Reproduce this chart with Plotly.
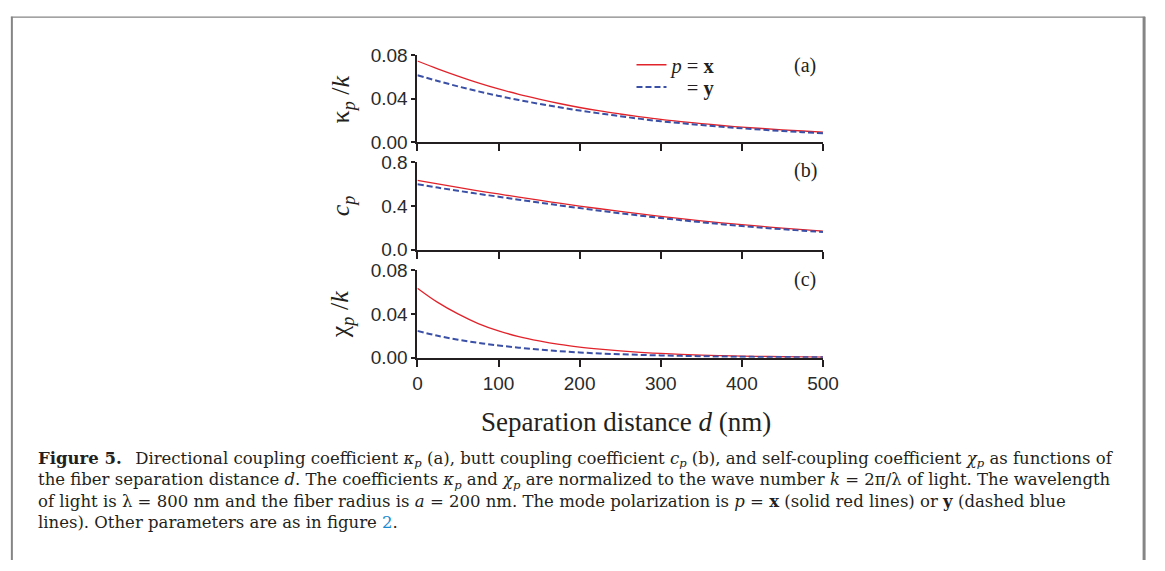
import plotly.graph_objects as go

W, H = 1165, 571

# ---------------- data ----------------
d_nm = [0, 25, 50, 75, 100, 125, 150, 175, 200, 225, 250, 275, 300, 325, 350, 375, 400, 425, 450, 475, 500]

kappa_x = [0.0747, 0.0675, 0.0608, 0.0545, 0.0489, 0.0440, 0.0396, 0.0355, 0.0318, 0.0286, 0.0258,
           0.0232, 0.0208, 0.0188, 0.0170, 0.0152, 0.0137, 0.0124, 0.0112, 0.0101, 0.0091]
kappa_y = [0.0615, 0.0563, 0.0513, 0.0467, 0.0425, 0.0387, 0.0352, 0.0320, 0.0290, 0.0263, 0.0238,
           0.0213, 0.0191, 0.0173, 0.0156, 0.0140, 0.0126, 0.0113, 0.0101, 0.0090, 0.0080]

c_x = [0.635, 0.602, 0.570, 0.539, 0.510, 0.481, 0.453, 0.426, 0.400, 0.375, 0.351,
       0.328, 0.306, 0.285, 0.265, 0.247, 0.230, 0.214, 0.198, 0.184, 0.170]
c_y = [0.598, 0.568, 0.539, 0.511, 0.485, 0.458, 0.432, 0.406, 0.381, 0.357, 0.334,
       0.312, 0.291, 0.271, 0.252, 0.234, 0.218, 0.202, 0.188, 0.175, 0.162]

chi_x = [0.0635, 0.0505, 0.0400, 0.0312, 0.0245, 0.0193, 0.0153, 0.0121, 0.0097, 0.0078, 0.0062,
         0.0049, 0.0039, 0.0031, 0.0024, 0.0019, 0.0015, 0.0012, 0.0009, 0.0007, 0.0006]
chi_y = [0.0245, 0.0200, 0.0165, 0.0136, 0.0112, 0.0092, 0.0075, 0.0060, 0.0048, 0.0039, 0.0032,
         0.0026, 0.0021, 0.0017, 0.0014, 0.0011, 0.0009, 0.0007, 0.0006, 0.0005, 0.0004]

x_ticks = [0, 100, 200, 300, 400, 500]
ticks_a = [0.00, 0.04, 0.08]
ticks_b = [0.0, 0.4, 0.8]
ticks_c = [0.00, 0.04, 0.08]

panel_labels = ["(a)", "(b)", "(c)"]
y_titles = ["κ<sub><i>p</i></sub> /<i>k</i>", "<i>c<sub>p</sub></i>", "χ<sub><i>p</i></sub> /<i>k</i>"]
x_title = "Separation distance <i>d</i> (nm)"
legend_names = ["<i>p</i> = <b>x</b>", "\u00a0\u00a0\u00a0= <b>y</b>"]

caption_lines = [
    "<b>Figure 5.</b>\u2002 Directional coupling coefficient <i>κ<sub>p</sub></i> (a), butt coupling coefficient <i>c<sub>p</sub></i> (b), and self-coupling coefficient <i>χ<sub>p</sub></i> as functions of",
    "the fiber separation distance <i>d</i>. The coefficients <i>κ<sub>p</sub></i> and <i>χ<sub>p</sub></i> are normalized to the wave number <i>k</i> = 2π/λ of light. The wavelength",
    "of light is λ = 800 nm and the fiber radius is <i>a</i> = 200 nm. The mode polarization is <i>p</i> = <b>x</b> (solid red lines) or <b>y</b> (dashed blue",
    "lines). Other parameters are as in figure <span style='color:#1b8ad0'>2</span>.",
]

# ---------------- style ----------------
RED = "#e1232b"
BLUE = "#3a4fa6"
AX = "#231f20"
SERIF = "Liberation Serif"
SANS = "Liberation Sans"

def px_x(p):
    return p / W

def px_y(p):
    return 1 - p / H

x_dom = [px_x(420), px_x(833)]
y_doms = [
    [px_y(137), px_y(47)],
    [px_y(249), px_y(158)],
    [px_y(361), px_y(270)],
]

fig = go.Figure()

series = [(kappa_x, kappa_y), (c_x, c_y), (chi_x, chi_y)]
for i, (sx, sy) in enumerate(series):
    xa = "x" if i == 0 else f"x{i+1}"
    ya = "y" if i == 0 else f"y{i+1}"
    fig.add_trace(go.Scatter(x=d_nm, y=sx, mode="lines", xaxis=xa, yaxis=ya,
                             line=dict(color=RED, width=1.3, shape="spline"),
                             name=legend_names[0], showlegend=(i == 0), legend="legend"))
    fig.add_trace(go.Scatter(x=d_nm, y=sy, mode="lines", xaxis=xa, yaxis=ya,
                             line=dict(color=BLUE, width=2, dash="6px,3px", shape="spline"),
                             name=legend_names[1], showlegend=(i == 0), legend="legend2"))

tick_font = dict(family=SANS, size=19, color="#2a2a2a")
yticks = [ticks_a, ticks_b, ticks_c]
yfmt = [".2f", ".1f", ".2f"]
yranges = [[0, 0.08], [0, 0.8], [0, 0.08]]

leg_font = dict(family=SERIF, size=20.5, color=AX)
layout = dict(
    width=W, height=H,
    margin=dict(l=0, r=0, t=0, b=0),
    paper_bgcolor="white", plot_bgcolor="white",
    showlegend=True,
    legend=dict(x=px_x(638), y=px_y(57), xanchor="left", yanchor="middle",
                bgcolor="rgba(0,0,0,0)", font=leg_font, tracegroupgap=0),
    legend2=dict(x=px_x(638), y=px_y(80), xanchor="left", yanchor="middle",
                 bgcolor="rgba(0,0,0,0)", font=leg_font, tracegroupgap=0),
)
for i in range(3):
    xk = "xaxis" if i == 0 else f"xaxis{i+1}"
    yk = "yaxis" if i == 0 else f"yaxis{i+1}"
    ya = "y" if i == 0 else f"y{i+1}"
    xa = "x" if i == 0 else f"x{i+1}"
    layout[xk] = dict(domain=x_dom, anchor=ya, range=[0, 500], tickvals=x_ticks,
                      showticklabels=(i == 2), ticks="outside", ticklen=7, tickwidth=1.5,
                      tickcolor=AX, showline=True, linecolor=AX, linewidth=2,
                      showgrid=False, zeroline=False, tickfont=tick_font)
    layout[yk] = dict(domain=y_doms[i], anchor=xa, range=yranges[i], tickvals=yticks[i],
                      tickformat=yfmt[i], ticks="outside", ticklen=4, tickwidth=1.5,
                      tickcolor=AX, showline=True, linecolor=AX, linewidth=2,
                      showgrid=False, zeroline=False, tickfont=tick_font)
fig.update_layout(**layout)

# panel labels
label_y = [58, 167, 280]
for i, lab in enumerate(panel_labels):
    fig.add_annotation(text=lab, x=px_x(815), y=px_y(label_y[i]), xref="paper", yref="paper",
                       xanchor="center", yanchor="middle",
                       showarrow=False, font=dict(family=SERIF, size=20, color=AX))

# y titles
title_y = [93, 203, 316]
for i, t in enumerate(y_titles):
    fig.add_annotation(text=t, x=px_x(343), y=px_y(title_y[i]), xref="paper", yref="paper",
                       xanchor="center", yanchor="middle",
                       textangle=-90, showarrow=False, font=dict(family=SERIF, size=26, color=AX))

# x title
fig.add_annotation(text=x_title, x=px_x(632), y=px_y(428), xref="paper", yref="paper",
                   xanchor="center", yanchor="middle",
                   showarrow=False, font=dict(family=SERIF, size=27, color=AX))

# caption (one text block, four lines)
fig.add_annotation(text="<br>".join(caption_lines), x=px_x(32), y=px_y(499), xref="paper", yref="paper",
                   xanchor="left", yanchor="middle", align="left", showarrow=False,
                   font=dict(family="DejaVu Serif", size=16.5, color=AX))

# frame
FR = "#858585"
fig.add_shape(type="line", xref="paper", yref="paper", x0=px_x(6), x1=px_x(1161), y0=px_y(7.5), y1=px_y(7.5),
              line=dict(color=FR, width=1.2))
fig.add_shape(type="line", xref="paper", yref="paper", x0=px_x(7), x1=px_x(7), y0=px_y(7), y1=0,
              line=dict(color=FR, width=2))
fig.add_shape(type="line", xref="paper", yref="paper", x0=px_x(1160), x1=px_x(1160), y0=px_y(7), y1=0,
              line=dict(color=FR, width=3))

fig.write_html("out.html")
